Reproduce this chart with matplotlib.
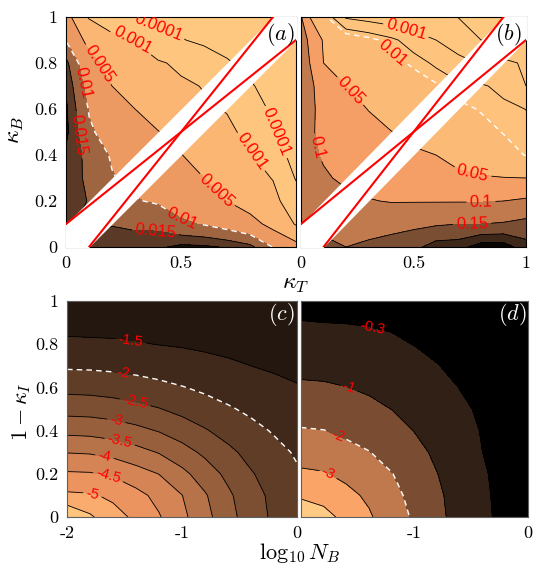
import numpy as np
import matplotlib
matplotlib.use("Agg")
import matplotlib.pyplot as plt

plt.rcParams['mathtext.fontset'] = 'cm'
plt.rcParams['font.family'] = 'cmr10'
plt.rcParams['axes.unicode_minus'] = False
plt.rcParams['axes.formatter.use_mathtext'] = True
plt.rcParams['contour.negative_linestyle'] = 'solid'

# --- grids ---
kappa = [0.0, 0.1, 0.2, 0.3, 0.4, 0.5, 0.6, 0.7, 0.8, 0.9, 1.0]
log_nb = [-2.0, -1.8, -1.6, -1.4, -1.2, -1.0, -0.8, -0.6, -0.4, -0.2, 0.0]
one_minus_ki = [0.0, 0.1, 0.2, 0.3, 0.4, 0.5, 0.6, 0.7, 0.8, 0.9, 1.0]

# panel (a): rows = kappa_B, cols = kappa_T
za = [
    [0.016, 0.016, 0.017, 0.0178, 0.019, 0.0215, 0.021, 0.0195, 0.0166, 0.0098, 0.0085],
    [0.016, 0.014, 0.0148, 0.014, 0.0135, 0.0107, 0.0097, 0.0081, 0.0065, 0.004, 0.00088],
    [0.017, 0.0148, 0.011, 0.0103, 0.0095, 0.0082, 0.0069, 0.005, 0.0036, 0.0019, 0.000245],
    [0.0178, 0.014, 0.0103, 0.0087, 0.0074, 0.0065, 0.005, 0.0033, 0.0021, 0.00092, 0.000087],
    [0.019, 0.0135, 0.0095, 0.0074, 0.0061, 0.0052, 0.0029, 0.0021, 0.0013, 0.00016, 0.00007],
    [0.0215, 0.0107, 0.0082, 0.0065, 0.0052, 0.0035, 0.0017, 0.0014, 0.00065, 0.00011, 0.000056],
    [0.021, 0.0097, 0.0069, 0.005, 0.0029, 0.0017, 0.0013, 0.00091, 0.00028, 0.00007, 0.000045],
    [0.0195, 0.0081, 0.005, 0.0033, 0.0021, 0.0014, 0.00091, 0.00035, 0.00012, 0.00005, 0.000035],
    [0.0166, 0.0065, 0.0036, 0.0021, 0.0013, 0.00065, 0.00028, 0.00012, 0.00006, 0.00004, 0.00003],
    [0.0098, 0.004, 0.0019, 0.00092, 0.00016, 0.00011, 0.00007, 0.00005, 0.00004, 0.00003, 0.000028],
    [0.0085, 0.00088, 0.000245, 0.000087, 0.00007, 0.000056, 0.000045, 0.000035, 0.00003, 0.000028, 0.00002],
]

# panel (b)
zb = [
    [0.17, 0.16, 0.15, 0.16, 0.17, 0.185, 0.225, 0.23, 0.28, 0.28, 0.22],
    [0.15, 0.14, 0.125, 0.13, 0.135, 0.14, 0.145, 0.15, 0.15, 0.155, 0.165],
    [0.13, 0.12, 0.11, 0.102, 0.098, 0.098, 0.098, 0.098, 0.098, 0.1, 0.11],
    [0.125, 0.105, 0.093, 0.087, 0.081, 0.076, 0.07, 0.064, 0.056, 0.052, 0.05],
    [0.118, 0.096, 0.083, 0.071, 0.062, 0.055, 0.05, 0.033, 0.022, 0.0145, 0.0096],
    [0.112, 0.093, 0.076, 0.062, 0.051, 0.042, 0.029, 0.02, 0.014, 0.0096, 0.007],
    [0.12, 0.09, 0.066, 0.049, 0.035, 0.025, 0.018, 0.013, 0.0093, 0.0068, 0.0049],
    [0.148, 0.075, 0.05, 0.035, 0.024, 0.0165, 0.0115, 0.0063, 0.006, 0.0034, 0.001],
    [0.155, 0.05, 0.033, 0.021, 0.014, 0.0085, 0.004, 0.0019, 0.00085, 0.0018, 0.0007],
    [0.135, 0.047, 0.026, 0.0144, 0.0068, 0.0026, 0.001, 0.00032, 0.0001, 0.00007, 0.0006],
    [0.105, 0.0155, 0.00081, 0.00052, 0.00035, 0.00022, 0.00015, 0.000095, 0.000063, 0.00005, 0.00004],
]

# panel (c): rows = 1 - kappa_I, cols = log10 N_B
zc = [
    [-6.00, -5.58, -5.15, -4.92, -4.54, -4.12, -3.66, -3.17, -2.75, -2.41, -2.16],
    [-5.09, -5.05, -4.92, -4.65, -4.36, -4.01, -3.55, -3.09, -2.69, -2.38, -2.13],
    [-4.56, -4.54, -4.43, -4.21, -3.99, -3.63, -3.25, -2.88, -2.54, -2.28, -2.05],
    [-3.98, -3.95, -3.84, -3.67, -3.47, -3.19, -2.90, -2.61, -2.35, -2.13, -1.95],
    [-3.37, -3.34, -3.26, -3.13, -2.97, -2.76, -2.54, -2.32, -2.13, -1.96, -1.82],
    [-2.82, -2.80, -2.74, -2.64, -2.52, -2.36, -2.20, -2.05, -1.91, -1.79, -1.68],
    [-2.35, -2.33, -2.28, -2.21, -2.12, -2.02, -1.91, -1.80, -1.70, -1.61, -1.53],
    [-1.93, -1.92, -1.89, -1.84, -1.78, -1.71, -1.64, -1.57, -1.50, -1.44, -1.38],
    [-1.58, -1.57, -1.56, -1.53, -1.49, -1.46, -1.42, -1.38, -1.34, -1.30, -1.25],
    [-1.36, -1.35, -1.34, -1.33, -1.31, -1.29, -1.26, -1.23, -1.20, -1.17, -1.13],
    [-1.19, -1.19, -1.18, -1.17, -1.16, -1.14, -1.12, -1.10, -1.08, -1.05, -1.03],
]

# panel (d)
zd = [
    [-5.00, -4.39, -3.66, -3.11, -2.47, -1.87, -1.19, -0.71, -0.36, -0.22, -0.13],
    [-3.80, -3.60, -3.24, -2.84, -2.27, -1.73, -1.13, -0.69, -0.35, -0.21, -0.13],
    [-3.14, -3.07, -2.78, -2.36, -2.03, -1.48, -1.01, -0.64, -0.33, -0.21, -0.13],
    [-2.63, -2.48, -2.25, -2.03, -1.62, -1.22, -0.86, -0.56, -0.30, -0.20, -0.12],
    [-2.08, -2.02, -1.83, -1.55, -1.26, -0.98, -0.71, -0.47, -0.27, -0.18, -0.11],
    [-1.53, -1.48, -1.35, -1.18, -0.99, -0.77, -0.57, -0.37, -0.24, -0.16, -0.09],
    [-1.12, -1.09, -1.01, -0.89, -0.74, -0.59, -0.43, -0.29, -0.20, -0.13, -0.07],
    [-0.79, -0.77, -0.72, -0.64, -0.54, -0.43, -0.31, -0.23, -0.16, -0.10, -0.05],
    [-0.52, -0.51, -0.48, -0.43, -0.36, -0.29, -0.23, -0.18, -0.12, -0.07, -0.02],
    [-0.31, -0.30, -0.29, -0.27, -0.25, -0.21, -0.17, -0.12, -0.08, -0.03, 0.01],
    [-0.21, -0.20, -0.20, -0.18, -0.16, -0.14, -0.11, -0.07, -0.03, 0.00, 0.04],
]

# red lines in (a), (b)
line1_t = [0.0, 1.0]
line1_b = [0.1, 0.9]
line2_t = [0.1, 0.9]
line2_b = [0.0, 1.0]
band = 0.1

levels_a = [1e-6, 0.0001, 0.001, 0.005, 0.01, 0.015, 0.02, 0.05]
colors_a = ['#ffc880', '#fec57e', '#fbb674', '#ec9a62', '#9f6540', '#5a3a26', '#170f09']
levels_b = [1e-6, 0.0001, 0.001, 0.005, 0.01, 0.05, 0.1, 0.15, 0.2, 0.25, 1]
colors_b = ['#ffc880', '#ffc67f', '#fec47d', '#fec27c', '#fcba77', '#f59e66', '#c07a4e',
            '#7a4e32', '#3e281a', '#080503']
levels_c = [-7, -5.5, -5, -4.5, -4, -3.5, -3, -2.5, -2, -1.5, -1, 0]
colors_c = ['#ffc57d', '#faac6e', '#eb945f', '#d48455', '#b67248', '#985f3d', '#7c4e32',
            '#603d27', '#40291b', '#24170f', '#080503']
levels_d = [-6, -4, -3, -2, -1, -0.3, 1]
colors_d = ['#ffca84', '#fba467', '#c0794d', '#7a4d32', '#302016', '#000000']

DASH = [(0, (4, 3))]

W, H = 534, 570
fig = plt.figure(figsize=(W / 100, H / 100), dpi=100)


def box(l, t, r, b):
    return [l / W, 1 - b / H, (r - l) / W, (b - t) / H]


ax_a = fig.add_axes(box(66, 17, 296, 247))
ax_b = fig.add_axes(box(301, 17, 526, 247))
ax_c = fig.add_axes(box(67, 301, 297, 517))
ax_d = fig.add_axes(box(301, 301, 528, 517))


def log_panel(ax, z, levels, colors, solid, dashed, labels, fs):
    lz = np.log10(np.array(z))
    ax.contourf(kappa, kappa, lz, levels=np.log10(levels), colors=colors, zorder=1)
    cs = ax.contour(kappa, kappa, lz, levels=np.log10(solid), colors='k', linewidths=0.6, zorder=2)
    cd = ax.contour(kappa, kappa, lz, levels=np.log10(dashed), colors='white', linewidths=1.0,
                    linestyles=DASH, zorder=2)
    xs = np.array([-0.3, 1.3])
    ax.fill_between(xs, xs - band, xs + band, color='white', lw=0, zorder=3)
    ax.plot(line1_t, line1_b, color='red', lw=1.5, zorder=4)
    ax.plot(line2_t, line2_b, color='red', lw=1.5, zorder=4)
    with plt.rc_context({'font.family': 'Liberation Sans'}):
        for c in (cs, cd):
            pts = [(x, y) for v, x, y in labels if np.log10(v) in list(c.levels)]
            if pts:
                fmt = {lv: '%g' % (10 ** lv) for lv in c.levels}
                tx = c.clabel(manual=pts, fmt=fmt, colors='red', fontsize=fs, inline=True,
                              inline_spacing=3)
                for t in tx:
                    t.set_zorder(5)
    ax.set_xlim(0, 1)
    ax.set_ylim(0, 1)


def lin_panel(ax, z, levels, colors, solid, dashed, labels, fs):
    z = np.array(z)
    ax.contourf(log_nb, one_minus_ki, z, levels=levels, colors=colors, zorder=1)
    cs = ax.contour(log_nb, one_minus_ki, z, levels=solid, colors='k', linewidths=0.6, zorder=2)
    cd = ax.contour(log_nb, one_minus_ki, z, levels=dashed, colors='white', linewidths=1.0,
                    linestyles=DASH, zorder=2)
    with plt.rc_context({'font.family': 'Liberation Sans'}):
        for c in (cs, cd):
            pts = [(x, y) for v, x, y in labels if v in list(c.levels)]
            if pts:
                tx = c.clabel(manual=pts, fmt='%g', colors='red', fontsize=fs, inline=True,
                              inline_spacing=3)
                for t in tx:
                    t.set_zorder(5)
    ax.set_xlim(-2, 0)
    ax.set_ylim(0, 1)


log_panel(ax_a, za, levels_a, colors_a, [0.0001, 0.001, 0.005, 0.015, 0.02], [0.01],
          [(0.0001, 0.4, 0.95), (0.0001, 0.93, 0.51), (0.001, 0.29, 0.9), (0.001, 0.82, 0.42),
           (0.005, 0.15, 0.8), (0.005, 0.66, 0.25), (0.01, 0.06, 0.71), (0.01, 0.5, 0.11),
           (0.015, 0.06, 0.49), (0.015, 0.39, 0.055)], 12)
log_panel(ax_b, zb, levels_b, colors_b, [0.0001, 0.001, 0.005, 0.05, 0.1, 0.15, 0.2, 0.25], [0.01],
          [(0.001, 0.47, 0.955), (0.01, 0.41, 0.85), (0.05, 0.21, 0.67), (0.05, 0.77, 0.35),
           (0.1, 0.06, 0.43), (0.1, 0.8, 0.17), (0.15, 0.76, 0.09)], 12)
lin_panel(ax_c, zc, levels_c, colors_c, [-5.5, -5, -4.5, -4, -3.5, -3, -2.5, -1.5, -1], [-2],
          [(-1.5, -1.45, 0.8), (-2, -1.51, 0.65), (-2.5, -1.41, 0.52), (-3, -1.58, 0.43),
           (-3.5, -1.55, 0.33), (-4, -1.68, 0.26), (-4.5, -1.65, 0.16), (-5, -1.78, 0.1)], 10.5)
lin_panel(ax_d, zd, levels_d, colors_d, [-4, -3, -1, -0.3], [-2],
          [(-0.3, -1.38, 0.85), (-1, -1.59, 0.58), (-2, -1.69, 0.36), (-3, -1.76, 0.2)], 10.5)

for ax in (ax_a, ax_b, ax_c, ax_d):
    ax.tick_params(length=0, labelsize=13, pad=6)
ax_a.set_yticks([0, 0.2, 0.4, 0.6, 0.8, 1], ['0', '0.2', '0.4', '0.6', '0.8', '1'])
ax_a.set_xticks([0, 0.5], ['0', '0.5'])
ax_b.set_yticks([])
ax_b.set_xticks([0, 0.5, 1], ['0', '0.5', '1'])
ax_c.set_yticks([0, 0.2, 0.4, 0.6, 0.8, 1], ['0', '0.2', '0.4', '0.6', '0.8', '1'])
ax_c.set_xticks([-2, -1, 0], ['-2', '-1', '0'])
ax_d.set_yticks([])
ax_d.set_xticks([-1, 0], ['-1', '0'])
for ax in (ax_c, ax_d):
    for s in ax.spines.values():
        s.set_color('#606060')

fig.text(280 / W, 1 - 35 / H, r'$(a)$', fontsize=16, ha='center', va='center')
fig.text(508 / W, 1 - 34 / H, r'$(b)$', fontsize=16, ha='center', va='center')
fig.text(281 / W, 1 - 315 / H, r'$(c)$', fontsize=16, ha='center', va='center', color='white')
fig.text(512 / W, 1 - 315 / H, r'$(d)$', fontsize=16, ha='center', va='center', color='white')
fig.text(15 / W, 1 - 130 / H, r'$\kappa_B$', fontsize=17, rotation=90, ha='center', va='center')
fig.text(296 / W, 1 - 284 / H, r'$\kappa_T$', fontsize=17, ha='center', va='center')
fig.text(22 / W, 1 - 412 / H, r'$1-\kappa_I$', fontsize=16, rotation=90, ha='center', va='center')
fig.text(300 / W, 1 - 553 / H, r'$\log_{10}N_B$', fontsize=16, ha='center', va='center')

fig.savefig('out.png', dpi=100)
